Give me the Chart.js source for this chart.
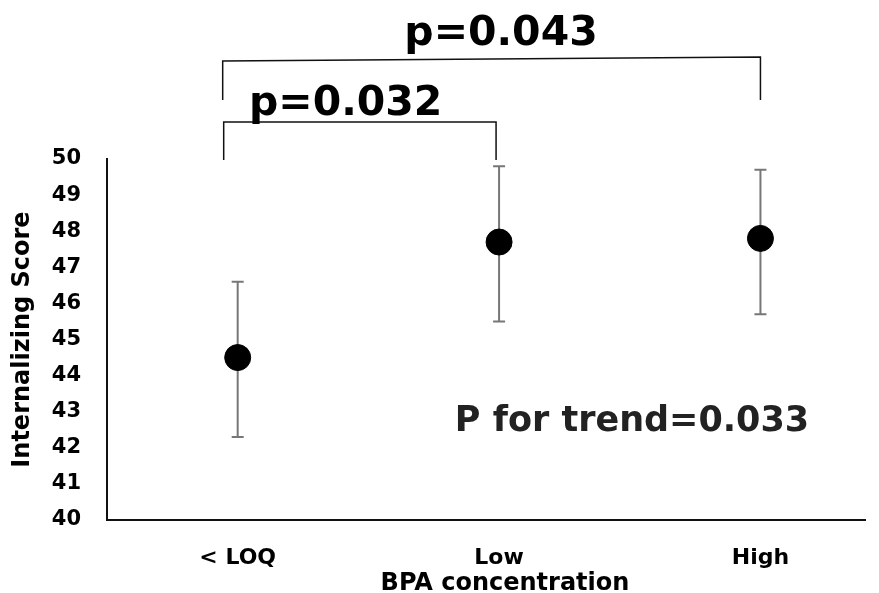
<!DOCTYPE html>
<html>
<head>
<meta charset="utf-8">
<script src="https://cdn.jsdelivr.net/npm/chart.js@4"></script>
<style>
  html, body { margin: 0; padding: 0; background: #fff; }
  #wrap { width: 879px; height: 593px; position: relative; }
</style>
</head>
<body>
<div id="wrap"><canvas id="bpaChart" width="879" height="593"></canvas></div>
<script>
// categories and values
const categories = ["< LOQ", "Low", "High"];
const means = [44.5, 47.7, 47.8];
const upper = [46.6, 49.8, 49.7];
const lower = [42.3, 45.5, 45.7];
const yTicks = [40, 41, 42, 43, 44, 45, 46, 47, 48, 49, 50];

// significance brackets: [from category, to category, label]
const pairs = [
    [0, 1, "p=0.032"],
    [0, 2, "p=0.043"]
];
const trendLabel = "P for trend=0.033";
const xTitle = "BPA concentration";
const yTitle = "Internalizing Score";

const FONT = "'DejaVu Sans', Verdana, sans-serif";

// draws error bars under the points
const errorBars = {
    id: "errorBars",
    beforeDatasetsDraw(chart) {
        const ctx = chart.ctx;
        const xs = chart.scales.x, ys = chart.scales.y;
        ctx.save();
        ctx.strokeStyle = "#777";
        ctx.lineWidth = 2;
        categories.forEach((c, i) => {
            const x = xs.getPixelForValue(i + 1);
            const yTop = ys.getPixelForValue(upper[i]);
            const yBot = ys.getPixelForValue(lower[i]);
            ctx.beginPath();
            ctx.moveTo(x, yTop); ctx.lineTo(x, yBot);
            ctx.moveTo(x - 6, yTop); ctx.lineTo(x + 6, yTop);
            ctx.moveTo(x - 6, yBot); ctx.lineTo(x + 6, yBot);
            ctx.stroke();
        });
        ctx.restore();
    }
};

// brackets, p-values, trend text, x title
const annotations = {
    id: "annotations",
    afterDraw(chart) {
        const ctx = chart.ctx;
        const xs = chart.scales.x;
        ctx.save();
        ctx.strokeStyle = "#111";
        ctx.lineWidth = 1.5;

        // small bracket (< LOQ vs Low)
        let x0 = xs.getPixelForValue(pairs[0][0] + 1) - 14;
        let x1 = xs.getPixelForValue(pairs[0][1] + 1) - 3;
        ctx.beginPath();
        ctx.moveTo(x0, 160); ctx.lineTo(x0, 122); ctx.lineTo(x1, 122); ctx.lineTo(x1, 160);
        ctx.stroke();

        // big bracket (< LOQ vs High)
        x0 = xs.getPixelForValue(pairs[1][0] + 1) - 15;
        x1 = xs.getPixelForValue(pairs[1][1] + 1);
        ctx.beginPath();
        ctx.moveTo(x0, 100); ctx.lineTo(x0, 61); ctx.lineTo(x1, 57); ctx.lineTo(x1, 100);
        ctx.stroke();

        ctx.fillStyle = "#000";
        ctx.font = "bold 41px " + FONT;
        ctx.textBaseline = "alphabetic";
        ctx.textAlign = "left";
        ctx.fillText(pairs[0][2], 249, 115);
        ctx.textAlign = "center";
        ctx.fillText(pairs[1][2], 501, 45);

        ctx.fillStyle = "#222";
        ctx.font = "bold 35px " + FONT;
        ctx.fillText(trendLabel, 632, 431);

        ctx.fillStyle = "#000";
        ctx.font = "bold 24px " + FONT;
        ctx.textBaseline = "middle";
        ctx.fillText(xTitle, 505, 584);
        ctx.restore();
    }
};

new Chart(document.getElementById("bpaChart").getContext("2d"), {
    type: "scatter",
    data: {
        datasets: [{
            label: "Internalizing Score",
            data: means.map((m, i) => ({ x: i + 1, y: m })),
            backgroundColor: "#000",
            borderColor: "#000",
            pointRadius: 13,
            pointHoverRadius: 13
        }]
    },
    options: {
        responsive: false,
        animation: false,
        events: [],
        layout: { padding: { left: 0, top: 159, right: 14, bottom: 0 } },
        plugins: {
            legend: { display: false },
            tooltip: { enabled: false }
        },
        scales: {
            x: {
                type: "linear",
                min: 0.5,
                max: 3.4,
                afterBuildTicks: axis => { axis.ticks = categories.map((c, i) => ({ value: i + 1 })); },
                afterFit: axis => { axis.height = 73; },
                grid: { display: false, drawTicks: false },
                border: { display: true, color: "#111", width: 2 },
                ticks: {
                    padding: 25,
                    color: "#000",
                    font: { family: FONT, size: 22, weight: "bold" },
                    callback: v => categories[v - 1]
                }
            },
            y: {
                min: 40,
                max: 50,
                afterBuildTicks: axis => { axis.ticks = yTicks.map(v => ({ value: v })); },
                afterFit: axis => { axis.width = 107; },
                grid: { display: false, drawTicks: false },
                border: { display: true, color: "#111", width: 2 },
                ticks: {
                    padding: 26,
                    color: "#000",
                    font: { family: FONT, size: 21, weight: "bold" }
                },
                title: {
                    display: true,
                    text: yTitle,
                    color: "#000",
                    padding: { top: 8, bottom: 0 },
                    font: { family: FONT, size: 24, weight: "bold" }
                }
            }
        }
    },
    plugins: [errorBars, annotations]
});
</script>
</body>
</html>
